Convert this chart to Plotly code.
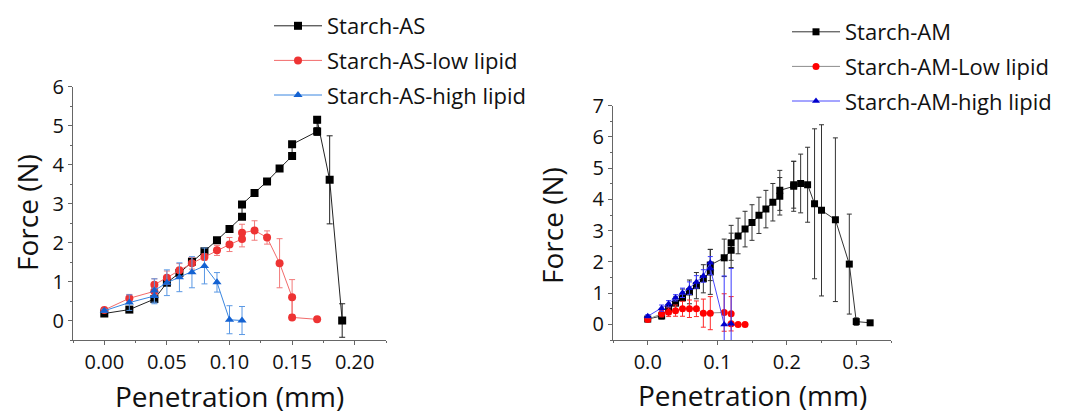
import plotly.graph_objs as go

# Starch-AS panel (left)
as_x = [0, 0.02, 0.04, 0.05, 0.06, 0.07, 0.08, 0.09, 0.10, 0.11, 0.11, 0.12, 0.13, 0.14, 0.15, 0.15, 0.17, 0.17, 0.18, 0.19]
as_y = [0.18, 0.28, 0.55, 0.97, 1.22, 1.51, 1.78, 2.06, 2.35, 2.66, 2.98, 3.27, 3.57, 3.90, 4.22, 4.52, 4.85, 5.15, 3.61, 0.0]
as_err = [0.03, 0.03, 0.05, 0.03, 0.03, 0.03, 0.03, 0.03, 0.03, 0.03, 0.04, 0.03, 0.03, 0.03, 0.03, 0.05, 0.10, 0.08, 1.13, 0.43]

asl_x = [0, 0.02, 0.04, 0.04, 0.05, 0.06, 0.07, 0.08, 0.09, 0.10, 0.11, 0.11, 0.12, 0.13, 0.14, 0.15, 0.15, 0.17]
asl_y = [0.27, 0.57, 0.75, 0.92, 1.10, 1.29, 1.47, 1.63, 1.80, 1.95, 2.09, 2.25, 2.31, 2.13, 1.47, 0.60, 0.08, 0.03]
asl_err = [0.04, 0.10, 0.10, 0.15, 0.17, 0.17, 0.15, 0.08, 0.13, 0.18, 0.20, 0.22, 0.25, 0.17, 0.63, 0.45, 0.03, 0.03]

ash_x = [0, 0.02, 0.04, 0.04, 0.05, 0.06, 0.07, 0.08, 0.09, 0.10, 0.11]
ash_y = [0.25, 0.46, 0.63, 0.77, 0.97, 1.11, 1.24, 1.40, 0.98, 0.02, 0.0]
ash_err = [0.04, 0.20, 0.20, 0.30, 0.33, 0.37, 0.40, 0.46, 0.25, 0.36, 0.36]

# Starch-AM panel (right)
am_x = [0, 0.02, 0.03, 0.04, 0.05, 0.06, 0.07, 0.08, 0.09, 0.09, 0.11, 0.12, 0.12, 0.13, 0.14, 0.15,
        0.16, 0.17, 0.18, 0.19, 0.19, 0.21, 0.21, 0.22, 0.23, 0.24, 0.25, 0.27, 0.29, 0.30, 0.32]
am_y = [0.17, 0.27, 0.52, 0.68, 0.85, 1.04, 1.24, 1.46, 1.68, 1.90, 2.13, 2.37, 2.61, 2.83, 3.05, 3.26,
        3.49, 3.69, 3.91, 4.10, 4.29, 4.42, 4.47, 4.51, 4.47, 3.86, 3.65, 3.35, 1.93, 0.09, 0.05]
am_err = [0.05, 0.10, 0.12, 0.20, 0.28, 0.38, 0.42, 0.45, 0.72, 0.50, 0.60, 0.55, 0.56, 0.57, 0.57, 0.57,
          0.58, 0.60, 0.60, 0.60, 0.64, 0.80, 0.75, 0.94, 1.20, 2.40, 2.74, 2.62, 1.60, 0.12, 0.05]

aml_x = [0, 0.02, 0.03, 0.04, 0.05, 0.06, 0.07, 0.08, 0.09, 0.11, 0.12, 0.12, 0.13, 0.14]
aml_y = [0.16, 0.34, 0.39, 0.44, 0.50, 0.50, 0.50, 0.36, 0.36, 0.38, 0.34, 0.02, 0.0, 0.0]
aml_err = [0.03, 0.10, 0.14, 0.18, 0.24, 0.28, 0.25, 0.45, 0.53, 0.60, 0.55, 0.02, 0.02, 0.02]

amh_x = [0, 0.02, 0.03, 0.04, 0.05, 0.06, 0.07, 0.08, 0.09, 0.09, 0.11, 0.12]
amh_y = [0.26, 0.52, 0.66, 0.85, 1.01, 1.16, 1.36, 1.55, 1.97, 1.79, 0.0, 0.02]
amh_err = [0.05, 0.10, 0.10, 0.10, 0.15, 0.20, 0.20, 0.20, 0.20, 0.20, 1.55, 1.77]

# the page body has an 8px default margin, so the figure is sized to fit inside the window
OFF = 8
W, H = 1072 - OFF, 414 - OFF
FONT = "Open Sans"


def px(x):
    return (x - OFF) / W


def py(y):
    return 1 - (y - OFF) / H


def series(x, y, err, name, line_c, mark_c, err_c, symbol, size, xa, ya, leg, cap):
    return go.Scatter(
        x=x, y=y, name=name, mode='lines+markers',
        line=dict(color=line_c, width=1),
        marker=dict(color=mark_c, symbol=symbol, size=size, line=dict(width=0)),
        error_y=dict(type='data', array=err, color=err_c, thickness=1, width=cap),
        xaxis=xa, yaxis=ya, legend=leg, legendgroup=name,
    )


fig = go.Figure()
fig.add_trace(series(as_x, as_y, as_err, 'Starch-AS', '#222222', '#000000', '#222222', 'square', 8, 'x', 'y', 'legend', 3))
fig.add_trace(series(asl_x, asl_y, asl_err, 'Starch-AS-low lipid', '#f26b6b', '#ee3333', '#f27a7a', 'circle', 8, 'x', 'y', 'legend', 3))
fig.add_trace(series(ash_x, ash_y, ash_err, 'Starch-AS-high lipid', '#3a86e0', '#1462d2', '#5a98e4', 'triangle-up', 8, 'x', 'y', 'legend', 3))

fig.add_trace(series(am_x, am_y, am_err, 'Starch-AM', '#333333', '#000000', '#333333', 'square', 7, 'x2', 'y2', 'legend2', 2.5))
fig.add_trace(series(aml_x, aml_y, aml_err, 'Starch-AM-Low lipid', '#8c8c8c', '#ff0000', '#ff2a2a', 'circle', 7, 'x2', 'y2', 'legend2', 2.5))
fig.add_trace(series(amh_x, amh_y, amh_err, 'Starch-AM-high lipid', '#4a4aff', '#0000cc', '#3a3aff', 'triangle-up', 7, 'x2', 'y2', 'legend2', 2.5))

axis_style = dict(showline=True, linecolor='#666666', linewidth=1, ticks='outside', ticklen=4,
                  tickcolor='#666666', showgrid=False, zeroline=False, automargin=False,
                  tickfont=dict(family=FONT, size=20, color='#111111'))
title_font = dict(family=FONT, size=28, color='#111111')
legend_font = dict(family=FONT, size=22, color='#111111')

fig.update_layout(
    width=W, height=H,
    margin=dict(l=0, r=0, t=0, b=0, autoexpand=False),
    paper_bgcolor='white', plot_bgcolor='white',
    font=dict(family=FONT, color='#111111'),
    xaxis=dict(domain=[px(73), px(386)], range=[-0.025, 0.225], dtick=0.05, tick0=0, tickformat='.2f',
               anchor='y', minor=dict(ticks='outside', ticklen=2, dtick=0.025, tickcolor='#666666'), **axis_style),
    yaxis=dict(domain=[py(340), py(86.7)], range=[-0.5, 6], dtick=1, tick0=0,
               anchor='x', minor=dict(ticks='outside', ticklen=2, dtick=0.5, tickcolor='#666666'), **axis_style),
    xaxis2=dict(domain=[px(613), px(891)], range=[-0.05, 0.35], dtick=0.1, tick0=0, tickformat='.1f',
                anchor='y2', minor=dict(ticks='outside', ticklen=2, dtick=0.05, tickcolor='#666666'), **axis_style),
    yaxis2=dict(domain=[py(340), py(105.7)], range=[-0.5, 7], dtick=1, tick0=0,
                anchor='x2', minor=dict(ticks='outside', ticklen=2, dtick=0.5, tickcolor='#666666'), **axis_style),
    legend=dict(x=px(269), y=py(5), xanchor='left', yanchor='top', bgcolor='rgba(0,0,0,0)',
                font=legend_font, tracegroupgap=3, itemwidth=48),
    legend2=dict(x=px(787), y=py(11), xanchor='left', yanchor='top', bgcolor='rgba(0,0,0,0)',
                 font=legend_font, tracegroupgap=3, itemwidth=48),
    annotations=[
        dict(text='Force (N)', x=px(27), y=py(213), xref='paper', yref='paper', textangle=-90,
             xanchor='center', yanchor='middle', showarrow=False, font=title_font),
        dict(text='Penetration (mm)', x=px(229.5), y=py(396), xref='paper', yref='paper',
             xanchor='center', yanchor='middle', showarrow=False, font=title_font),
        dict(text='Force (N)', x=px(552), y=py(226), xref='paper', yref='paper', textangle=-90,
             xanchor='center', yanchor='middle', showarrow=False, font=title_font),
        dict(text='Penetration (mm)', x=px(752), y=py(395), xref='paper', yref='paper',
             xanchor='center', yanchor='middle', showarrow=False, font=title_font),
    ],
)

fig.write_html("out.html")
